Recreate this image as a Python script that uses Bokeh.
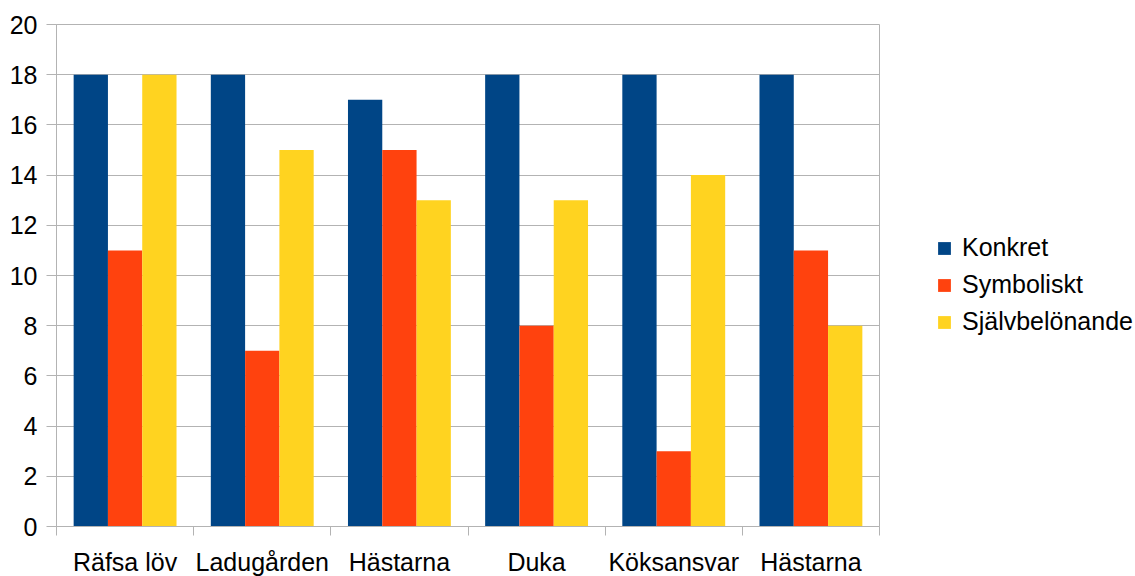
from bokeh.plotting import figure
from bokeh.models import ColumnDataSource, FixedTicker, Legend, LegendItem, Range1d
from bokeh.embed import file_html
from bokeh.resources import INLINE

categories = ["Räfsa löv", "Ladugården", "Hästarna", "Duka", "Köksansvar", "Hästarna"]
series_names = ["Konkret", "Symboliskt", "Självbelönande"]
konkret = [18, 18, 17, 18, 18, 18]
symboliskt = [11, 7, 15, 8, 3, 11]
sjalvbelonande = [18, 15, 13, 13, 14, 8]
colors = ["#004586", "#ff420e", "#ffd320"]
y_ticks = list(range(0, 21, 2))

FONT = "Liberation Sans"

p = figure(width=1119, height=566, output_backend="svg", toolbar_location=None,
           x_range=Range1d(0, len(categories)), y_range=Range1d(0, 20),
           min_border_left=56, min_border_top=24, min_border_bottom=40, min_border_right=240)
p.frame_width = 823
p.frame_height = 502

centers = [i + 0.5 for i in range(len(categories))]
offsets = [-0.25, 0.0, 0.25]
series = [konkret, symboliskt, sjalvbelonande]
renderers = []
for vals, off, col, name in zip(series, offsets, colors, series_names):
    src = ColumnDataSource(dict(x=[c + off for c in centers], top=vals))
    r = p.vbar(x="x", top="top", width=0.25, bottom=0, source=src,
               fill_color=col, line_color=None)
    renderers.append((name, r))

# Axes
p.xaxis.ticker = FixedTicker(ticks=centers, minor_ticks=list(range(len(categories) + 1)))
p.xaxis.major_label_overrides = {c: lab for c, lab in zip(centers, categories)}
p.xaxis.major_tick_in = 0
p.xaxis.major_tick_out = 0
p.xaxis.minor_tick_in = 0
p.xaxis.minor_tick_out = 9
p.xaxis.minor_tick_line_color = "#b3b3b3"
p.xaxis.axis_line_color = "#b3b3b3"
p.xaxis.major_label_text_font = FONT
p.xaxis.major_label_text_font_size = "25px"
p.xaxis.major_label_text_color = "black"
p.xaxis.major_label_standoff = 12

p.yaxis.ticker = FixedTicker(ticks=y_ticks)
p.yaxis.major_tick_in = 0
p.yaxis.major_tick_out = 10
p.yaxis.minor_tick_line_color = None
p.yaxis.major_tick_line_color = "#b3b3b3"
p.yaxis.axis_line_color = "#b3b3b3"
p.yaxis.major_label_text_font = FONT
p.yaxis.major_label_text_font_size = "25px"
p.yaxis.major_label_text_color = "black"
p.yaxis.major_label_standoff = 9

p.xgrid.grid_line_color = None
p.ygrid.ticker = FixedTicker(ticks=y_ticks)
p.ygrid.grid_line_color = "#b3b3b3"
p.ygrid.grid_line_width = 1

p.outline_line_color = "#b3b3b3"
p.background_fill_color = "white"
p.border_fill_color = "white"

legend = Legend(items=[LegendItem(label=n, renderers=[r]) for n, r in renderers],
                location=(57, 190), border_line_color=None, background_fill_alpha=0,
                label_text_font=FONT, label_text_font_size="25px",
                glyph_width=16, glyph_height=16, spacing=8, label_standoff=10,
                margin=0, padding=0)
legend.label_text_color = "black"
p.add_layout(legend, "right")

open("out.html", "w").write(file_html(p, INLINE))
